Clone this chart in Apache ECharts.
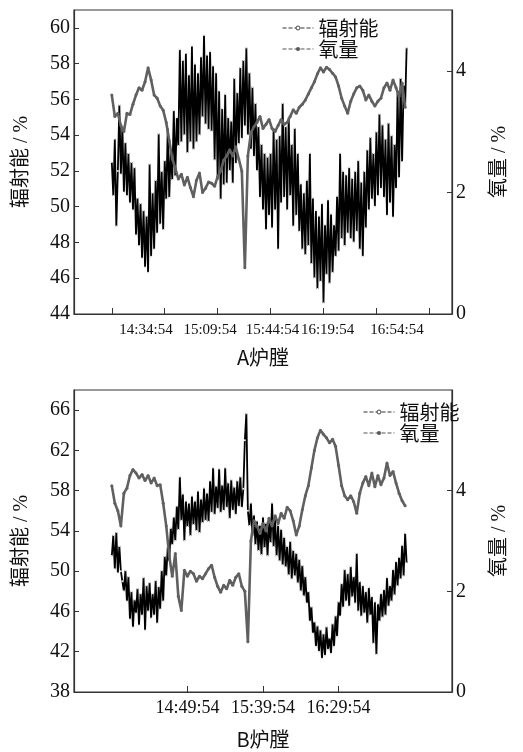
<!DOCTYPE html>
<html>
<head>
<meta charset="utf-8">
<script src="https://cdn.jsdelivr.net/npm/echarts@6.0.0/dist/echarts.min.js"></script>
<style>
  html, body { margin: 0; padding: 0; background: #fff; }
  #chart { width: 523px; height: 752px; }
</style>
</head>
<body>
<div id="chart"></div>
<script>
// time axis in minutes after 13:34:54
const startMin = 25

// A furnace, radiation (%), one value per minute from startMin
const radA = [
  52.5, 50.6, 53.8, 48.9, 52.0, 55.7, 51.8, 54.5, 50.8, 53.6,
  50.6, 53.0, 50.2, 52.5, 49.8, 52.2, 48.4, 50.5, 47.8, 50.2,
  47.1, 49.8, 46.6, 49.5, 46.3, 52.4, 47.2, 50.8, 47.6, 51.5,
  48.5, 54.1, 49.0, 52.0, 48.7, 52.6, 50.4, 54.4, 50.5, 53.2,
  51.5, 55.4, 51.7, 55.0, 53.4, 58.8, 53.6, 58.2, 54.0, 58.6,
  53.0, 57.4, 53.6, 59.0, 53.2, 58.0, 53.6, 57.5, 54.0, 58.4,
  55.0, 59.6, 54.6, 58.5, 54.3, 58.7, 54.2, 57.9, 52.6, 57.5,
  51.5, 56.5, 50.4, 55.5, 51.2, 56.3, 51.3, 55.0, 52.0, 54.8,
  51.3, 57.2, 52.4, 56.4, 53.5, 57.8, 53.8, 58.2, 54.5, 58.9,
  54.0, 57.5, 53.2, 56.7, 52.8, 55.8, 52.0, 54.5, 50.5, 53.5,
  49.8, 53.0, 48.7, 52.8, 49.5, 53.0, 48.8, 54.4, 49.8, 53.8,
  47.6, 54.0, 50.2, 55.8, 50.5, 54.5, 49.8, 55.0, 50.6, 53.5,
  48.9, 54.4, 49.5, 53.0, 48.6, 51.3, 47.6, 50.8, 47.3, 51.5,
  47.8, 53.0, 46.8, 50.5, 46.0, 49.8, 45.4, 49.5, 45.8, 50.2,
  44.6, 49.0, 46.2, 50.4, 45.7, 49.6, 46.3, 49.0, 47.2, 50.6,
  47.5, 53.0, 48.2, 52.0, 47.8, 51.8, 48.5, 52.2, 48.2, 51.6,
  48.0, 52.0, 48.6, 52.6, 47.6, 51.4, 47.2, 52.0, 48.8, 53.2,
  49.8, 53.9, 50.4, 53.0, 50.0, 54.2, 50.6, 55.2, 51.0, 54.6,
  50.5, 53.8, 49.5, 54.7, 50.2, 54.0, 49.4, 53.5, 51.0, 56.5,
  51.6, 57.2, 52.5, 56.8, 55.6, 58.9
]
// A furnace, oxygen (%), one value every 2 minutes from startMin
const oxyA = [
  3.6, 3.25, 3.3, 3.1, 3.0, 3.3, 3.28, 3.45, 3.6, 3.72,
  3.68, 3.82, 4.05, 3.85, 3.6, 3.55, 3.42, 3.35, 3.15, 2.85,
  2.55, 2.4, 2.22, 2.3, 2.12, 2.25, 2.08, 1.93, 2.2, 2.32,
  2.0, 2.07, 2.17, 2.15, 2.1, 2.26, 2.35, 2.53, 2.6, 2.7,
  2.6, 2.75, 2.55, 2.35, 0.76, 2.6, 2.98, 3.08, 3.15, 3.25,
  3.05, 3.12, 3.2, 3.05, 3.0, 3.1, 3.2, 3.12, 3.15, 3.25,
  3.36, 3.3, 3.4, 3.45, 3.52, 3.62, 3.72, 3.82, 3.95, 4.05,
  3.98, 4.06, 4.02, 3.96, 3.9, 3.75, 3.55, 3.42, 3.3, 3.5,
  3.62, 3.72, 3.75, 3.68, 3.52, 3.6, 3.5, 3.42, 3.5, 3.55,
  3.72, 3.8, 3.68, 3.85, 3.72, 3.58, 3.8, 3.4
]
// B furnace, radiation (%), one value per minute
const radB = [
  51.5, 53.6, 50.2, 53.9, 49.8, 52.5, 50.0, 49.0, 48.0, 50.1,
  47.0, 49.5, 45.2, 48.0, 44.4, 47.2, 45.8, 48.3, 44.6, 47.8,
  45.6, 49.4, 44.1, 48.6, 46.0, 48.9, 45.3, 47.8, 45.6, 49.1,
  44.8, 48.5, 46.2, 50.1, 47.0, 51.5, 49.5, 52.4, 51.0, 54.3,
  52.6, 55.4, 53.0, 56.5, 54.1, 59.4, 55.0, 57.7, 53.0, 57.0,
  54.4, 56.8, 53.5, 57.5, 54.6, 57.0, 54.0, 58.0, 53.8, 57.2,
  54.8, 58.3, 55.0, 57.8, 54.9, 59.0, 55.8, 60.3, 55.6, 58.5,
  56.2, 60.2, 55.8, 58.6, 56.0, 60.3, 56.3, 58.8, 55.2, 59.1,
  56.0, 58.4, 55.6, 59.0, 56.4, 59.4, 56.3, 58.2, 63.0, 65.7,
  56.0, 54.5, 56.8, 53.5, 55.6, 52.6, 55.0, 52.0, 54.6, 51.6,
  55.4, 52.3, 54.8, 51.5, 55.0, 52.8, 56.8, 52.4, 55.2, 51.5,
  54.6, 51.0, 54.2, 50.6, 53.4, 50.4, 52.5, 49.6, 53.0, 49.2,
  52.1, 49.5, 51.8, 48.8, 51.2, 48.0, 50.6, 47.5, 49.5, 46.8,
  48.0, 45.0, 46.5, 43.8, 45.0, 42.5, 44.6, 42.0, 44.2, 41.3,
  43.8, 41.6, 44.5, 42.2, 43.4, 41.8, 44.8, 42.5, 45.6, 43.5,
  47.0, 45.5, 48.8, 46.4, 50.2, 47.0, 49.8, 46.5, 50.5, 47.4,
  49.5, 46.8, 51.8, 46.0, 49.0, 45.5, 48.6, 45.8, 48.0, 44.8,
  48.4, 45.6, 47.5, 42.8, 47.0, 41.7, 46.8, 45.0, 47.8, 45.4,
  48.2, 45.6, 49.4, 46.5, 48.6, 47.0, 50.2, 47.6, 51.0, 48.5,
  51.4, 49.2, 52.6, 49.5, 53.8, 50.8
]
// B furnace, oxygen (%), one value every 2 minutes
const oxyB = [
  4.1, 3.75, 3.6, 3.3, 3.95, 4.05, 4.3, 4.42, 4.35, 4.25,
  4.32, 4.2, 4.3, 4.15, 4.25, 4.1, 4.12, 3.75, 3.3, 2.7,
  2.3, 2.75, 1.9, 1.62, 2.42, 2.3, 2.4, 2.35, 2.2, 2.3,
  2.25, 2.35, 2.45, 2.52, 2.28, 2.1, 1.98, 2.12, 2.05, 2.22,
  2.12, 2.28, 2.35, 2.1, 2.0, 1.0, 3.0, 3.4, 3.3, 3.15,
  3.35, 3.2, 3.45, 3.3, 3.5, 3.35, 3.55, 3.45, 3.67, 3.6,
  3.4, 3.12, 3.3, 3.62, 3.9, 4.1, 4.45, 4.8, 5.05, 5.2,
  5.12, 5.05, 4.95, 5.02, 4.88, 4.5, 4.1, 3.9, 3.82, 3.9,
  3.78, 3.55, 3.95, 4.15, 4.28, 4.1, 4.35, 4.08, 4.3, 4.12,
  4.25, 4.55, 4.3, 4.38, 4.15, 3.95, 3.8, 3.7
]

// x ticks (minutes) and label positions / texts, as drawn in the source figure
const ticksA = [25, 60, 95, 130, 165, 200, 235]
const labelMinA = [47.6, 90, 131.3, 167.7, 213.6]
const labelTextA = ['14:34:54', '15:09:54', '15:44:54', '16:19:54', '16:54:54']
const ticksB = [75, 125, 175]
const labelMinB = [75, 125, 175]
const labelTextB = ['14:49:54', '15:39:54', '16:29:54']

const serif = "'Liberation Serif','Noto Sans CJK SC',serif"
const cjk = "'Noto Sans CJK SC','Liberation Serif',serif"

function pairs(arr, step) {
  return arr.map((v, i) => [startMin + i * step, v])
}

function xAxis(grid, ticks, labelMin, labelText, size, margin, name, gap) {
  return {
    type: 'value', gridIndex: grid, min: 0, max: 250,
    name: name, nameLocation: 'middle', nameGap: gap,
    nameTextStyle: {fontSize: 20, fontFamily: cjk, color: '#111'},
    axisLine: {show: true, lineStyle: {color: '#333', width: 1.2}},
    axisTick: {show: true, inside: true, length: 6, customValues: ticks, lineStyle: {color: '#333'}},
    axisLabel: {
      customValues: labelMin, margin: margin, fontSize: size, fontFamily: serif, color: '#111',
      hideOverlap: false,
      formatter: v => labelText[labelMin.indexOf(v)]
    },
    splitLine: {show: false}
  }
}

function yAxis(grid, pos, min, max, interval, name, gap) {
  return {
    type: 'value', gridIndex: grid, position: pos, min: min, max: max, interval: interval,
    name: name, nameLocation: 'middle', nameGap: gap,
    nameTextStyle: {fontSize: 20, fontFamily: serif, color: '#111'},
    axisLine: {show: true, lineStyle: {color: '#333', width: 1.2}},
    axisTick: {show: true, inside: true, length: 5, lineStyle: {color: '#333'}},
    axisLabel: {showMaxLabel: false, margin: 4, fontSize: 20, fontFamily: serif, color: '#111'},
    splitLine: {show: false}
  }
}

function legend(left, top) {
  return {
    left: left, top: top, orient: 'vertical', itemGap: 1, itemWidth: 31, itemHeight: 5,
    textStyle: {fontSize: 20, fontFamily: cjk, color: '#111'},
    data: [
      {name: '辐射能', itemStyle: {color: '#fff', borderColor: '#444', borderWidth: 1},
        lineStyle: {color: '#333', type: 'dashed', width: 1}},
      {name: '氧量', itemStyle: {color: '#555', borderWidth: 0},
        lineStyle: {color: '#555', type: 'dashed', width: 1}}
    ]
  }
}

function radSeries(data, xi, yi) {
  return {
    name: '辐射能', type: 'line', xAxisIndex: xi, yAxisIndex: yi, data: data,
    showSymbol: true, showAllSymbol: true, symbol: 'circle', symbolSize: 2,
    itemStyle: {color: '#eee', borderWidth: 0},
    lineStyle: {color: '#000', width: 1.8}, z: 2
  }
}

function oxySeries(data, xi, yi) {
  return {
    name: '氧量', type: 'line', xAxisIndex: xi, yAxisIndex: yi, data: data,
    showSymbol: true, showAllSymbol: true, symbol: 'circle', symbolSize: 3,
    itemStyle: {color: '#606060'},
    lineStyle: {color: '#606060', width: 2.6}, z: 3
  }
}

const chart = echarts.init(document.getElementById('chart'))
chart.setOption({
  animation: false,
  backgroundColor: '#fff',
  grid: [
    {left: 74, right: 71, top: 10, height: 304, show: true, borderColor: '#333', borderWidth: 1.2},
    {left: 74, right: 71, top: 390, height: 302, show: true, borderColor: '#333', borderWidth: 1.2}
  ],
  legend: [legend(277, 13), legend(358, 397)],
  xAxis: [
    xAxis(0, ticksA, labelMinA, labelTextA, 15, 9, 'A炉膛', 33),
    xAxis(1, ticksB, labelMinB, labelTextB, 18, 7, 'B炉膛', 37)
  ],
  yAxis: [
    yAxis(0, 'left', 44, 61, 2, '辐射能 / %', 42),
    yAxis(0, 'right', 0, 5, 2, '氧量 / %', 38),
    yAxis(1, 'left', 38, 68, 4, '辐射能 / %', 42),
    yAxis(1, 'right', 0, 6, 2, '氧量 / %', 38)
  ],
  series: [
    radSeries(pairs(radA, 1), 0, 0),
    oxySeries(pairs(oxyA, 2), 0, 1),
    radSeries(pairs(radB, 1), 1, 2),
    oxySeries(pairs(oxyB, 2), 1, 3)
  ]
})
</script>
</body>
</html>
